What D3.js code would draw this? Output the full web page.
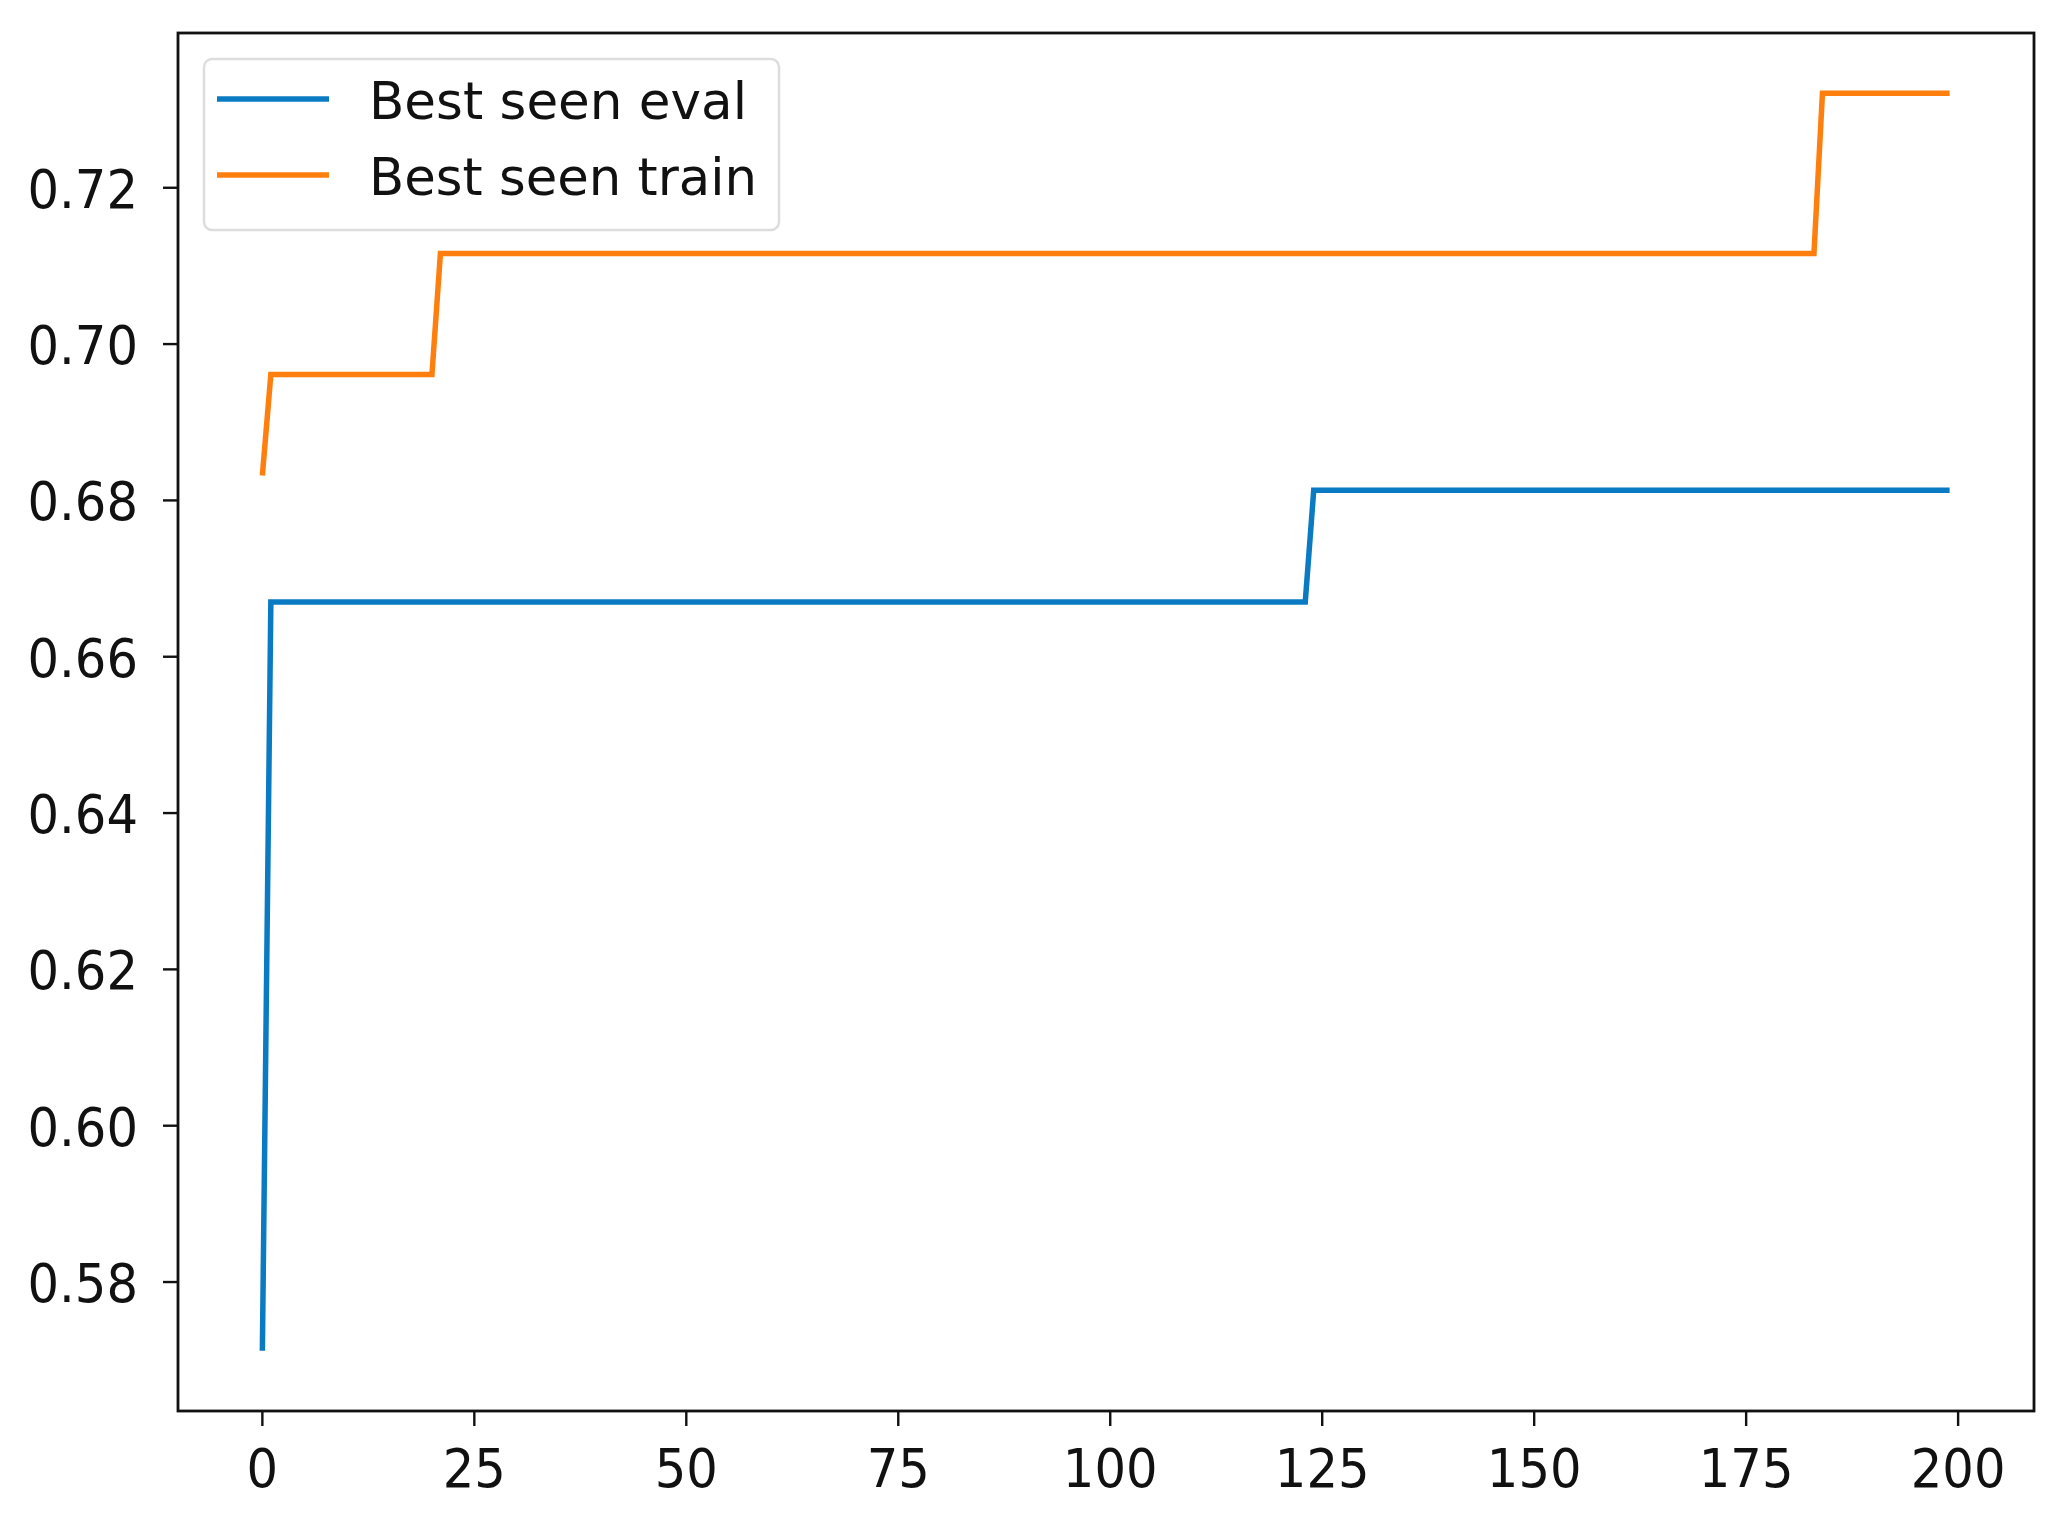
<!DOCTYPE html><html><head><meta charset="utf-8"><script src="https://cdn.jsdelivr.net/npm/d3@7"></script>
<style>body{margin:0;background:#fff}text{font-family:"DejaVu Sans";fill:#111}</style></head><body>
<svg id="c" width="2064" height="1519"></svg>
<script>
const evalX=[0,1,123,124,199];
const evalY=[0.5712,0.667,0.667,0.6813,0.6813];
const trainX=[0,1,20,21,183,184,199];
const trainY=[0.6832,0.6961,0.6961,0.7116,0.7116,0.7321,0.7321];
const xTicks=[0,25,50,75,100,125,150,175,200];
const yTicks=[0.58,0.60,0.62,0.64,0.66,0.68,0.70,0.72];
const names=["Best seen eval","Best seen train"];
const colors=["#0a7bc2","#ff7f0e"];
const L=178,R=2034,T=33,B=1411;
const svg=d3.select("#c");
const x=d3.scaleLinear().domain([-9.95,208.95]).range([L,R]);
const y=d3.scaleLinear().domain([0.5635,0.7398]).range([B,T]);
const line=d3.line().x(d=>x(d[0])).y(d=>y(d[1]));
[[evalX,evalY],[trainX,trainY]].forEach((s,i)=>{
 svg.append("path").attr("d",line(s[0].map((v,j)=>[v,s[1][j]]))).attr("fill","none").attr("stroke",colors[i]).attr("stroke-width",5.5);
});
svg.append("rect").attr("x",L).attr("y",T).attr("width",R-L).attr("height",B-T).attr("fill","none").attr("stroke","#111").attr("stroke-width",2.8);
xTicks.forEach(t=>{
 svg.append("line").attr("x1",x(t)).attr("x2",x(t)).attr("y1",B).attr("y2",B+15).attr("stroke","#111").attr("stroke-width",2.4);
 svg.append("text").attr("transform",`translate(${x(t)},${B+76}) scale(0.92,1)`).attr("text-anchor","middle").attr("font-size",54).text(t);
});
yTicks.forEach(t=>{
 svg.append("line").attr("x1",L-15).attr("x2",L).attr("y1",y(t)).attr("y2",y(t)).attr("stroke","#111").attr("stroke-width",2.4);
 svg.append("text").attr("transform",`translate(${L-40},${y(t)+20}) scale(0.92,1)`).attr("text-anchor","end").attr("font-size",54).text(t.toFixed(2));
});
svg.append("rect").attr("x",204).attr("y",59).attr("width",575).attr("height",171).attr("rx",8).attr("fill","#fff").attr("stroke","#ddd").attr("stroke-width",2.5);
names.forEach((n,i)=>{
 const yy=99+i*76;
 svg.append("line").attr("x1",217).attr("x2",329).attr("y1",yy).attr("y2",yy).attr("stroke",colors[i]).attr("stroke-width",5.5);
 svg.append("text").attr("x",369).attr("y",yy+20).attr("font-size",52).attr("textLength",i?388:378).attr("lengthAdjust","spacingAndGlyphs").text(n);
});
</script></body></html>
